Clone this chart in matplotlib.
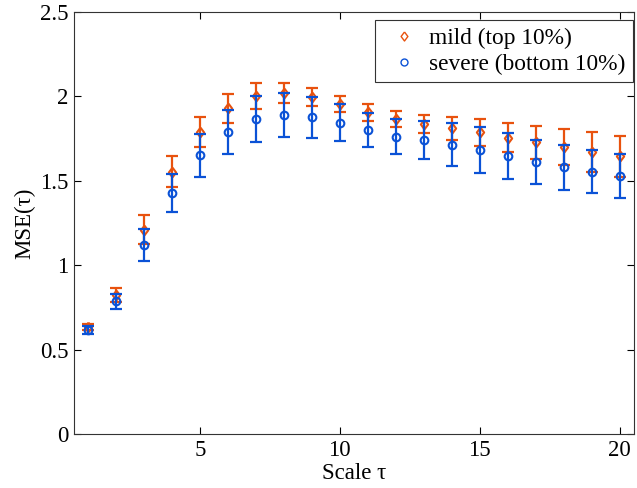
import matplotlib
matplotlib.use("Agg")
import matplotlib.pyplot as plt
from matplotlib.lines import Line2D
from matplotlib.ticker import FuncFormatter, FixedLocator

plt.rcParams['font.family'] = ['Liberation Serif', 'DejaVu Serif']

scales = list(range(1, 21))

mild_mse = [0.635, 0.825, 1.21, 1.555, 1.79, 1.93, 2.005, 2.02, 1.997, 1.955,
            1.905, 1.867, 1.837, 1.81, 1.787, 1.756, 1.727, 1.70, 1.67, 1.645]
mild_err = [0.018, 0.042, 0.085, 0.09, 0.09, 0.087, 0.077, 0.06, 0.055, 0.05,
            0.05, 0.048, 0.055, 0.07, 0.08, 0.085, 0.098, 0.108, 0.118, 0.12]

severe_mse = [0.615, 0.785, 1.12, 1.43, 1.65, 1.79, 1.867, 1.89, 1.877, 1.843,
              1.80, 1.762, 1.74, 1.715, 1.683, 1.646, 1.612, 1.58, 1.555, 1.53]
severe_err = [0.025, 0.046, 0.095, 0.113, 0.125, 0.132, 0.135, 0.13, 0.122, 0.11,
              0.10, 0.105, 0.113, 0.125, 0.135, 0.135, 0.13, 0.132, 0.128, 0.13]

labels = ['mild (top 10%)', 'severe (bottom 10%)']
c_mild = '#E8520E'
c_severe = '#0B52D6'

# diamond a bit wider than matplotlib's thin 'd'
diamond = [(0, 1), (0.75, 0), (0, -1), (-0.75, 0), (0, 1)]

fs = 16.5

fig = plt.figure(figsize=(6.37, 4.88), dpi=100)
ax = fig.add_axes([0.116, 0.1107, 0.879, 0.8647])

ax.errorbar(scales, mild_mse, yerr=mild_err, fmt='none', ecolor=c_mild,
            elinewidth=1.6, capsize=4.2, capthick=1.6)
ax.plot(scales, mild_mse, ls='none', marker=diamond, mfc='none', mec=c_mild,
        ms=7, mew=1.5)
ax.errorbar(scales, severe_mse, yerr=severe_err, fmt='none', ecolor=c_severe,
            elinewidth=1.6, capsize=4.2, capthick=1.6)
ax.plot(scales, severe_mse, ls='none', marker='o', mfc='none', mec=c_severe,
        ms=5.5, mew=1.5)

ax.set_xlim(0.5, 20.5)
ax.set_ylim(0, 2.5)
ax.xaxis.set_major_locator(FixedLocator([5, 10, 15, 20]))
ax.yaxis.set_major_locator(FixedLocator([0, 0.5, 1, 1.5, 2, 2.5]))
ax.yaxis.set_major_formatter(FuncFormatter(lambda v, p: f'{v:g}'))
ax.tick_params(direction='in', top=True, right=True, length=5, width=0.8,
               labelsize=fs, pad=4)
for s in ax.spines.values():
    s.set_linewidth(0.8)
    s.set_color('#333333')

ax.set_xlabel('Scale τ', fontsize=fs, labelpad=2)
ax.set_ylabel('MSE(τ)', fontsize=fs, labelpad=3)

handles = [
    Line2D([], [], ls='none', marker=diamond, mfc='none', mec=c_mild, ms=6.5, mew=1.0),
    Line2D([], [], ls='none', marker='o', mfc='none', mec=c_severe, ms=5, mew=1.0),
]
leg = ax.legend(handles, labels, loc='upper right', bbox_to_anchor=(0.998, 0.981),
                fontsize=16.8, frameon=True, fancybox=False, framealpha=1,
                edgecolor='#333333', borderpad=0.32, handletextpad=0.1,
                labelspacing=0.2, handlelength=1.9, borderaxespad=0)
leg.get_frame().set_linewidth(0.8)

fig.savefig('out.png', dpi=100)
